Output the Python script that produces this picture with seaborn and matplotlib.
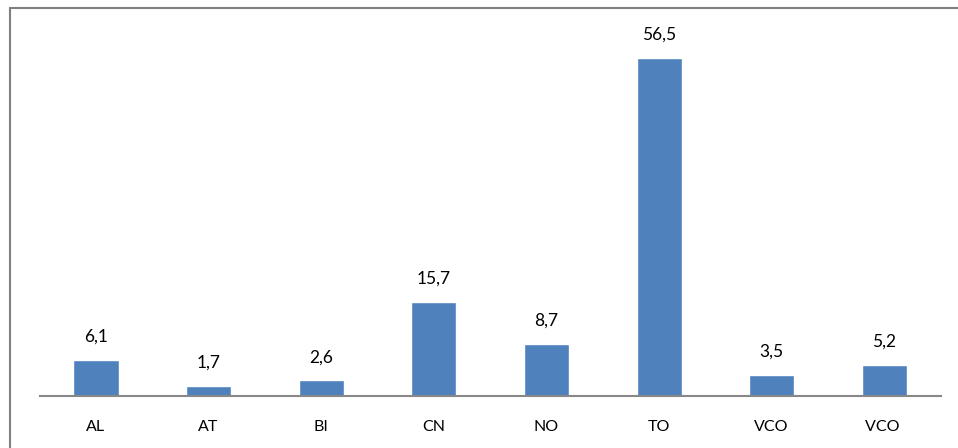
import matplotlib
matplotlib.use("Agg")
import matplotlib.pyplot as plt
import seaborn as sns
import pandas as pd
from matplotlib.lines import Line2D

provinces = ["AL", "AT", "BI", "CN", "NO", "TO", "VCO", "VCO "]
shares = [6.1, 1.7, 2.6, 15.7, 8.7, 56.5, 3.5, 5.2]

df = pd.DataFrame({"prov": provinces, "share": shares})

sns.set_theme(style="white")
plt.rcParams["font.family"] = ["Lato", "DejaVu Sans"]

W, H = 958, 448
fig = plt.figure(figsize=(W / 100, H / 100), dpi=100)
ax = fig.add_axes([39.7 / W, 1 - 396 / H, (940.6 - 39.7) / W, (396 - 37) / H])

sns.barplot(data=df, x="prov", y="share", color="#4F81BD", width=0.4,
            saturation=1, ax=ax)

ax.set_ylim(0, 60)
ax.set_xlabel("")
ax.set_ylabel("")
ax.set_yticks([])
for s in ["top", "right", "left"]:
    ax.spines[s].set_visible(False)
ax.spines["bottom"].set_color("#888888")
ax.spines["bottom"].set_linewidth(1.5)
ax.tick_params(axis="x", length=0, pad=17, labelsize=11.5, colors="black")

for i, v in enumerate(shares):
    ax.annotate(f"{v:.1f}".replace(".", ","), xy=(i, v), xytext=(0, 13),
                textcoords="offset points", ha="center", va="baseline",
                fontsize=12.5, color="black", annotation_clip=False)

# outer chart frame (top and left edges)
fig.add_artist(Line2D([9.5 / W, 9.5 / W], [0, 1 - 8.5 / H], transform=fig.transFigure,
                      color="#808080", lw=1.5))
fig.add_artist(Line2D([9.5 / W, 1], [1 - 8.5 / H, 1 - 8.5 / H], transform=fig.transFigure,
                      color="#808080", lw=1.5))

fig.savefig("out.png", dpi=100, facecolor="white")
